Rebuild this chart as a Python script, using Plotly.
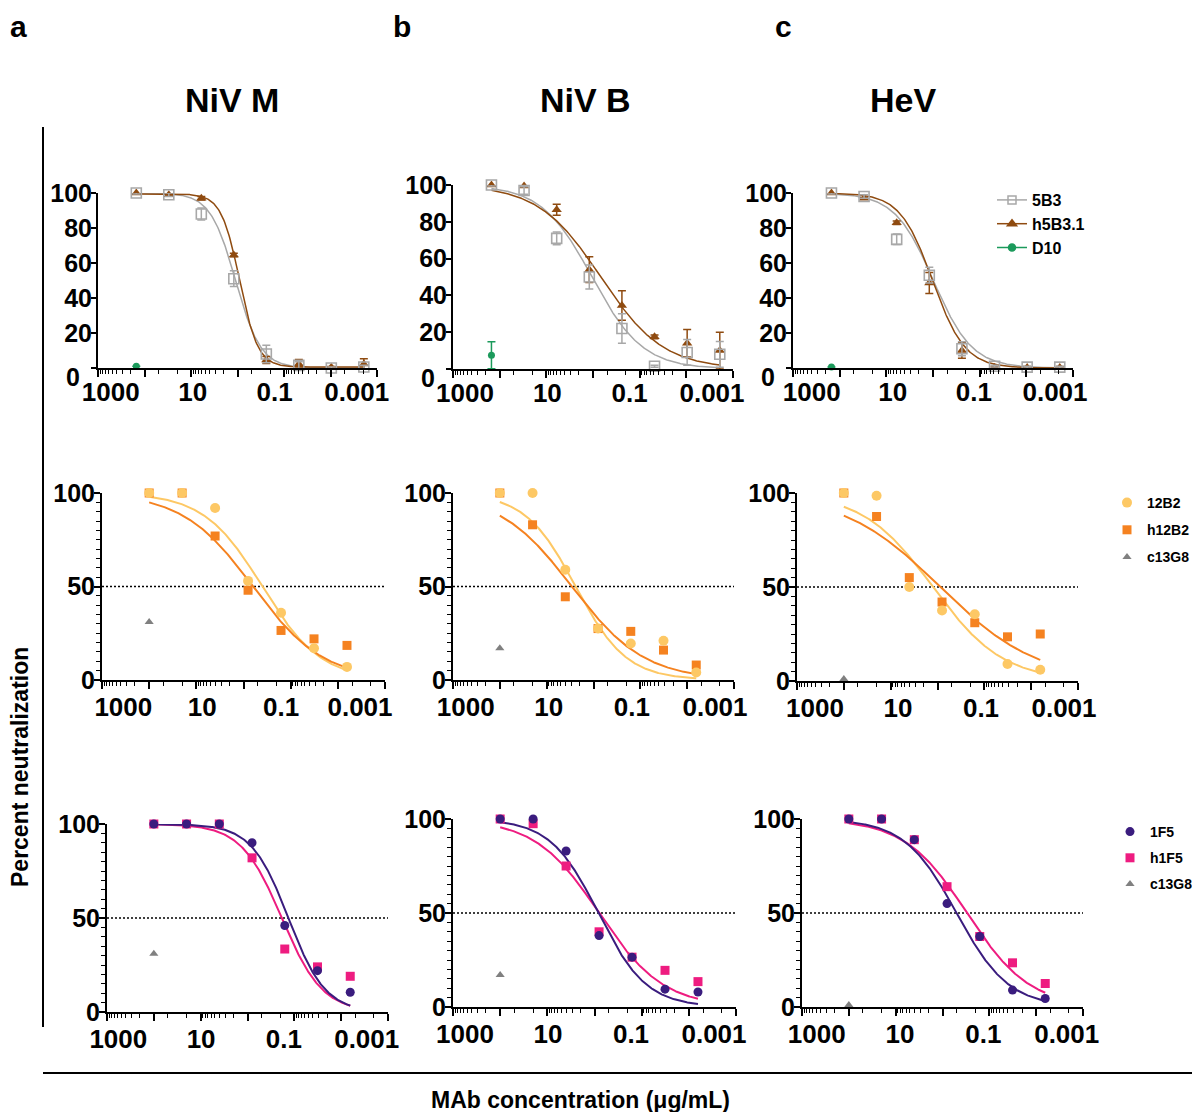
import numpy as np
import plotly.graph_objects as go

W, H = 1192, 1112
FONT = "Liberation Sans, Arial, sans-serif"

# ---------------- data ----------------
# concentrations (ug/mL)
CONC_R1 = [150, 30, 6, 1.2, 0.24, 0.048, 0.0096, 0.00192]
CONC_R23 = [100, 20, 4, 0.8, 0.16, 0.032, 0.0064]
CONC_D10 = [150]
CONC_C13G8 = [100]

X_TICKS = [1000, 100, 10, 1, 0.1, 0.01, 0.001]
X_TICK_LABELS = ["1000", "10", "0.1", "0.001"]
X_LABEL_VALS = [1000, 10, 0.1, 0.001]
X_MINOR = [900, 800, 700, 600, 500, 400, 300, 200, 50, 20,
           9, 8, 7, 6, 5, 4, 3, 2, 0.5, 0.2,
           0.09, 0.08, 0.07, 0.06, 0.05, 0.04, 0.03, 0.02, 0.005, 0.002]

# Row 1 : 5B3 / h5B3.1 / D10 (mean, SD)
NIVM_5B3 = [100, 99, 88, 51, 8, 1.5, 0, 0.6]
NIVM_5B3_SD = [0.5, 1, 3.5, 4.5, 5, 2, 0.5, 1]
NIVM_H5B3 = [100, 99, 97, 64.5, 4.5, 2.3, 0.4, 2.3]
NIVM_H5B3_SD = [0.5, 0.5, 1, 1, 2, 2.5, 0.5, 3]
NIVM_D10 = [1]
NIVM_D10_SD = [0]

NIVB_5B3 = [100, 97, 71, 50, 22, 1.5, 9, 8]
NIVB_5B3_SD = [0.5, 2, 3.5, 6.5, 8, 0.5, 7, 7]
NIVB_H5B3 = [100, 99.5, 86.5, 54, 34.5, 17.5, 14, 10]
NIVB_H5B3_SD = [0.5, 0.5, 3, 7, 8, 1, 7.5, 10]
NIVB_D10 = [7.5]
NIVB_D10_SD = [7.3]

HEV_5B3 = [100, 98, 73.5, 53, 11, 1, 0.5, 0.5]
HEV_5B3_SD = [0.5, 1, 3, 4.5, 4, 0.5, 0.5, 0.5]
HEV_H5B3 = [100, 97, 83, 48.5, 10, 0.3, 0.3, 0.3]
HEV_H5B3_SD = [0.5, 0.5, 1, 6, 4.5, 0.5, 0.5, 0.5]
HEV_D10 = [0.5]
HEV_D10_SD = [0]

# Row 2 : 12B2 / h12B2 / c13G8
NIVM_12B2 = [100, 100, 92, 53, 36, 17, 7]
NIVM_H12B2 = [100, 100, 77, 48, 26.5, 22, 18.5]
NIVM_C13G8_R2 = [31]
NIVB_12B2 = [100, 100, 59, 27.5, 19.5, 21, 4]
NIVB_H12B2 = [100, 83, 44.5, 27.5, 26, 16, 8]
NIVB_C13G8_R2 = [17]
HEV_12B2 = [100, 98.5, 50, 37.5, 35.5, 9, 6]
HEV_H12B2 = [100, 87.5, 55, 42, 31, 23.5, 25]
HEV_C13G8_R2 = [1]

# Row 3 : 1F5 / h1F5 / c13G8
NIVM_1F5 = [100, 100, 100, 90, 46, 22, 10.5]
NIVM_H1F5 = [100, 100, 100, 82, 33.5, 24, 19]
NIVM_C13G8_R3 = [31]
NIVB_1F5 = [100, 100, 83, 38, 26.5, 9.5, 8]
NIVB_H1F5 = [100, 97.5, 75, 40, 26.5, 19.5, 13.5]
NIVB_C13G8_R3 = [17]
HEV_1F5 = [100, 100, 89, 55, 37.5, 9, 4.5]
HEV_H1F5 = [100, 100, 89, 64, 37.5, 23.5, 12.5]
HEV_C13G8_R3 = [1]

# fitted 4-parameter logistic curves: [IC50, Hill slope, top, bottom]
FIT_NIVM_5B3 = [1.1, 1.6, 100, 0]
FIT_NIVM_H5B3 = [0.9, 2.2, 99.5, 0.5]
FIT_NIVB_5B3 = [1.05, 0.8, 100, 0]
FIT_NIVB_H5B3 = [0.68, 0.65, 100, 0]
FIT_HEV_5B3 = [0.98, 1.05, 100, 0]
FIT_HEV_H5B3 = [1.02, 1.25, 100, 0]
FIT_NIVM_12B2 = [0.4, 0.7, 100, 0]
FIT_NIVM_H12B2 = [0.63, 0.58, 100, 0]
FIT_NIVB_12B2 = [2.4, 0.8, 100, 0]
FIT_NIVB_H12B2 = [2.9, 0.56, 100, 0]
FIT_HEV_12B2 = [1.25, 0.58, 100, 0]
FIT_HEV_H12B2 = [0.88, 0.42, 100, 0]
FIT_NIVM_1F5 = [0.134, 1.1, 100, 0]
FIT_NIVM_H1F5 = [0.185, 1.0, 100, 0]
FIT_NIVB_1F5 = [0.83, 0.85, 100, 0]
FIT_NIVB_H1F5 = [0.8, 0.64, 100, 0]
FIT_HEV_1F5 = [0.5, 0.78, 100, 0]
FIT_HEV_H1F5 = [0.30, 0.65, 100, 0]

# ---------------- styles ----------------
C_5B3 = "#A8A8A8"
C_H5B3 = "#8F4B10"
C_D10 = "#1B9A5B"
C_12B2 = "#FDC865"
C_H12B2 = "#F58220"
C_C13G8 = "#808080"
C_1F5 = "#3A1C7E"
C_H1F5 = "#EE1C80"


def logistic(x, p):
    ic50, h, top, bottom = p
    x = np.asarray(x, dtype=float)
    return bottom + (top - bottom) / (1.0 + (ic50 / x) ** h)


def curve_x(conc):
    return np.logspace(np.log10(max(conc)), np.log10(min(conc)), 300)


# pixel boxes of each panel: x(1000), x(0.001), y(100), y(0); label centres
PANELS = [
    (98, 377, 193, 368, 110.7, 356.7),
    (453, 733, 185, 369, 465.0, 712.0),
    (793, 1073, 193, 368, 811.7, 1055.0),
    (102, 385, 493, 680, 123.3, 360.0),
    (453, 734, 493, 680, 465.7, 715.0),
    (797, 1078, 493, 681, 815.0, 1064.0),
    (107, 388, 824, 1012, 118.3, 366.7),
    (453, 736, 819, 1007, 465.0, 714.0),
    (802, 1083, 819, 1007, 816.7, 1066.7),
]

fig = go.Figure()


def ax(i):
    return ("x" if i == 1 else f"x{i}"), ("y" if i == 1 else f"y{i}")


def add_curve(i, conc, p, color, width):
    xa, ya = ax(i)
    xs = curve_x(conc)
    fig.add_trace(go.Scatter(x=xs, y=logistic(xs, p), mode="lines",
                             line=dict(color=color, width=width),
                             xaxis=xa, yaxis=ya, showlegend=False,
                             hoverinfo="skip", cliponaxis=False))


def add_points(i, conc, vals, color, symbol, size, sd=None, line=None,
               name=None, legend=None, rank=None):
    xa, ya = ax(i)
    kw = {}
    if sd is not None:
        kw["error_y"] = dict(type="data", array=sd, visible=True,
                             thickness=1.5, width=4, color=color)
    marker = dict(color=color, symbol=symbol, size=size)
    if line is not None:
        marker["line"] = line
    fig.add_trace(go.Scatter(x=conc, y=vals, mode="markers", marker=marker,
                             xaxis=xa, yaxis=ya, cliponaxis=False,
                             name=name, showlegend=legend is not None,
                             legend=legend, legendgroup=name,
                             legendrank=rank, **kw))


def add_half_line(i):
    xa, ya = ax(i)
    fig.add_trace(go.Scatter(x=[X_TICKS[0], X_TICKS[-1]], y=[50, 50],
                             mode="lines",
                             line=dict(color="black", width=1.5,
                                       dash="2px,2px"),
                             xaxis=xa, yaxis=ya, showlegend=False,
                             hoverinfo="skip"))


# Row 1
row1 = [
    (1, NIVM_5B3, NIVM_5B3_SD, NIVM_H5B3, NIVM_H5B3_SD, NIVM_D10, NIVM_D10_SD,
     FIT_NIVM_5B3, FIT_NIVM_H5B3),
    (2, NIVB_5B3, NIVB_5B3_SD, NIVB_H5B3, NIVB_H5B3_SD, NIVB_D10, NIVB_D10_SD,
     FIT_NIVB_5B3, FIT_NIVB_H5B3),
    (3, HEV_5B3, HEV_5B3_SD, HEV_H5B3, HEV_H5B3_SD, HEV_D10, HEV_D10_SD,
     FIT_HEV_5B3, FIT_HEV_H5B3),
]
for i, m5, s5, h5, sh5, d10, sd10, f5, fh5 in row1:
    add_curve(i, CONC_R1, f5, C_5B3, 1.5)
    add_curve(i, CONC_R1, fh5, C_H5B3, 1.5)
    add_points(i, CONC_R1, h5, C_H5B3, "triangle-up", 9, sd=sh5)
    add_points(i, CONC_R1, m5, C_5B3, "square-open", 10, sd=s5,
               line=dict(width=1.6, color=C_5B3))
    add_points(i, CONC_D10, d10, C_D10, "circle", 7, sd=sd10)

# Row 1 legend (line + marker glyphs)
for nm, col, sym, sz, rk in [("5B3", C_5B3, "square-open", 8, 1),
                             ("h5B3.1", C_H5B3, "triangle-up", 8, 2),
                             ("D10", C_D10, "circle", 7, 3)]:
    fig.add_trace(go.Scatter(x=[None], y=[None], mode="lines+markers",
                             line=dict(color=col, width=1.5),
                             marker=dict(color=col, symbol=sym, size=sz,
                                         line=dict(color=col, width=1.5)),
                             name=nm, legend="legend", legendgroup=nm,
                             legendrank=rk, xaxis="x3", yaxis="y3"))

# Row 2
row2 = [(4, NIVM_12B2, NIVM_H12B2, NIVM_C13G8_R2, FIT_NIVM_12B2, FIT_NIVM_H12B2),
        (5, NIVB_12B2, NIVB_H12B2, NIVB_C13G8_R2, FIT_NIVB_12B2, FIT_NIVB_H12B2),
        (6, HEV_12B2, HEV_H12B2, HEV_C13G8_R2, FIT_HEV_12B2, FIT_HEV_H12B2)]
for i, a, b, c, fa, fb in row2:
    add_half_line(i)
    add_curve(i, CONC_R23, fa, C_12B2, 2)
    add_curve(i, CONC_R23, fb, C_H12B2, 2)
    leg = "legend2" if i == 6 else None
    add_points(i, CONC_R23, b, C_H12B2, "square", 9,
               name="h12B2", legend=leg, rank=2)
    add_points(i, CONC_R23, a, C_12B2, "circle", 10,
               name="12B2", legend=leg, rank=1)
    add_points(i, CONC_C13G8, c, C_C13G8, "triangle-up", 8,
               name="c13G8", legend=leg, rank=3)

# Row 3
row3 = [(7, NIVM_1F5, NIVM_H1F5, NIVM_C13G8_R3, FIT_NIVM_1F5, FIT_NIVM_H1F5),
        (8, NIVB_1F5, NIVB_H1F5, NIVB_C13G8_R3, FIT_NIVB_1F5, FIT_NIVB_H1F5),
        (9, HEV_1F5, HEV_H1F5, HEV_C13G8_R3, FIT_HEV_1F5, FIT_HEV_H1F5)]
for i, a, b, c, fa, fb in row3:
    add_half_line(i)
    add_curve(i, CONC_R23, fb, C_H1F5, 2)
    add_curve(i, CONC_R23, fa, C_1F5, 2)
    leg = "legend3" if i == 9 else None
    add_points(i, CONC_R23, b, C_H1F5, "square", 9,
               name="h1F5", legend=leg, rank=2)
    add_points(i, CONC_R23, a, C_1F5, "circle", 9,
               name="1F5", legend=leg, rank=1)
    add_points(i, CONC_C13G8, c, C_C13G8, "triangle-up", 8,
               name="c13G8", legend=leg, rank=3)

# empty traces for the tick-label axes
for i in range(1, 10):
    _, ya = ax(i)
    fig.add_trace(go.Scatter(x=[None], y=[None], mode="markers",
                             xaxis=f"x{i + 9}", yaxis=ya, showlegend=False,
                             hoverinfo="skip"))


def fx(px):
    return px / W


def fy(py):
    return 1 - py / H


tickfont = dict(family=FONT, size=25, color="black", weight="bold")
xtickfont = dict(family=FONT, size=26, color="black", weight="bold")
layout = dict(width=W, height=H,
              margin=dict(l=0, r=0, t=0, b=0, pad=0, autoexpand=False),
              paper_bgcolor="white", plot_bgcolor="rgba(0,0,0,0)",
              font=dict(family=FONT, color="black"))

for k, (x0, x1, yt, yb, l0, l1) in enumerate(PANELS):
    i = k + 1
    xa, ya = ax(i)
    xkey = "xaxis" if i == 1 else f"xaxis{i}"
    ykey = "yaxis" if i == 1 else f"yaxis{i}"
    layout[xkey] = dict(
        type="log", range=[3, -3], autorange=False,
        domain=[fx(x0), fx(x1)], anchor=ya,
        showline=True, linecolor="black", linewidth=2,
        ticks="outside", ticklen=7, tickwidth=1.6, tickcolor="black",
        tickmode="array", tickvals=X_TICKS, showticklabels=False,
        showgrid=False, zeroline=False,
        minor=dict(tickmode="array", tickvals=X_MINOR, ticks="outside",
                   ticklen=4, tickwidth=1.4, tickcolor="black",
                   showgrid=False),
    )
    layout[f"xaxis{i + 9}"] = dict(
        type="log", range=[3, -3], autorange=False,
        domain=[fx(l0), fx(l1)], anchor=ya,
        showline=False, ticks="", tickmode="array",
        tickvals=X_LABEL_VALS, ticktext=X_TICK_LABELS,
        tickfont=xtickfont, showgrid=False, zeroline=False,
        ticklabelstandoff=6 if k < 3 else 9,
    )
    if k < 3:
        yt_vals = [0, 20, 40, 60, 80, 100]
        yt_text = ["", "20", "40", "60", "80", "100"]
        minor = None
        tl = 5
    else:
        yt_vals = [0, 50, 100]
        yt_text = ["0", "50", "100"]
        minor = dict(dtick=5, ticks="outside", ticklen=4, tickwidth=1.4,
                     tickcolor="black", showgrid=False)
        tl = 6
    yd = dict(range=[0, 100], autorange=False,
              domain=[fy(yb), fy(yt)], anchor=xa,
              showline=True, linecolor="black", linewidth=2,
              ticks="outside", ticklen=tl, tickwidth=1.6, tickcolor="black",
              tickmode="array", tickvals=yt_vals, ticktext=yt_text,
              tickfont=tickfont, showgrid=False, zeroline=False,
              ticklabelstandoff=-6)
    if minor:
        yd["minor"] = minor
    layout[ykey] = yd

legfont16 = dict(family=FONT, size=16, color="black", weight="bold")
legfont14 = dict(family=FONT, size=14, color="black", weight="bold")
layout["legend"] = dict(x=fx(992), y=fy(183), xanchor="left", yanchor="top",
                        font=legfont16, bgcolor="rgba(0,0,0,0)",
                        traceorder="grouped", tracegroupgap=0,
                        itemsizing="trace")
layout["legend2"] = dict(x=fx(1107), y=fy(487), xanchor="left", yanchor="top",
                         font=legfont14, bgcolor="rgba(0,0,0,0)",
                         traceorder="grouped", tracegroupgap=6,
                         itemsizing="trace")
layout["legend3"] = dict(x=fx(1110), y=fy(816), xanchor="left", yanchor="top",
                         font=legfont14, bgcolor="rgba(0,0,0,0)",
                         traceorder="grouped", tracegroupgap=5,
                         itemsizing="trace")

ann = []
for t, px in [("a", 18), ("b", 402), ("c", 783)]:
    ann.append(dict(text=t, x=fx(px), y=fy(27), xref="paper", yref="paper",
                    showarrow=False, xanchor="center", yanchor="middle",
                    font=dict(family=FONT, size=30, weight="bold")))
for t, px in [("NiV M", 232), ("NiV B", 585), ("HeV", 903)]:
    ann.append(dict(text=t, x=fx(px), y=fy(100), xref="paper", yref="paper",
                    showarrow=False, xanchor="center", yanchor="middle",
                    font=dict(family=FONT, size=34, weight="bold")))
ann.append(dict(text="Percent neutralization", x=fx(20), y=fy(767),
                xref="paper", yref="paper", showarrow=False, textangle=-90,
                xanchor="center", yanchor="middle",
                font=dict(family=FONT, size=23, weight="bold")))
ann.append(dict(text="MAb concentration (μg/mL)", x=fx(580), y=fy(1100),
                xref="paper", yref="paper", showarrow=False,
                xanchor="center", yanchor="middle",
                font=dict(family=FONT, size=23, weight="bold")))
for i in (1, 2, 3):
    xa, ya = ax(i)
    ann.append(dict(text="0", x=0, y=0, xref=f"{xa} domain", yref=ya,
                    showarrow=False, xanchor="right", yanchor="middle",
                    xshift=-16, yshift=-9, font=tickfont))
layout["annotations"] = ann

layout["shapes"] = [
    dict(type="line", xref="paper", yref="paper", x0=fx(43), x1=fx(43),
         y0=fy(127), y1=fy(1027), line=dict(color="black", width=2)),
    dict(type="line", xref="paper", yref="paper", x0=fx(43), x1=fx(1192),
         y0=fy(1073), y1=fy(1073), line=dict(color="black", width=2)),
]

fig.update_layout(**layout)
fig.write_html("out.html", config={"displayModeBar": False},
               post_script="document.body.style.margin='0px';"
                           "document.body.style.padding='0px';")
